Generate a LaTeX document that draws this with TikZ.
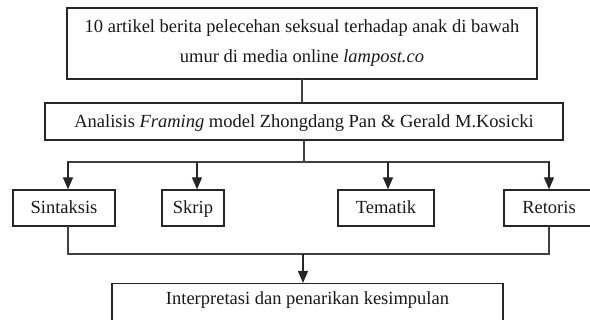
\documentclass[tikz,border=0pt]{standalone}
\usepackage{fontspec}
\setmainfont{Liberation Serif}
\usetikzlibrary{arrows.meta}
\tikzset{
  kotak/.style={draw=black!85, line width=1.2pt, rectangle, inner sep=0pt,
    align=center, font=\fontsize{18.5}{30}\selectfont, text=black!90},
  baris/.style={kotak, text height=14pt, text depth=2.5pt, minimum height=36pt},
  garis/.style={draw=black!75, line width=1.2pt, line cap=rect},
  panah/.style={draw=black!85, line width=1.2pt, -{Triangle[width=10pt,length=12pt]}},
}
\begin{document}
\begin{tikzpicture}[x=1pt,y=-1pt]
    \useasboundingbox (0,0) rectangle (590,320);
    \clip (0,0) rectangle (590,320);
    \node[kotak, minimum width=470pt, minimum height=71pt] (berita) at (302,43.5)
        {10 artikel berita pelecehan seksual terhadap anak di bawah\\umur di media online \textit{lampost.co}};
    \node[baris, minimum width=518pt, minimum height=37pt] (framing) at (304,121.5)
        {Analisis \textit{Framing} model Zhongdang Pan \& Gerald M.Kosicki};
    \node[baris, minimum width=102pt] (sintaksis) at (64,208) {Sintaksis};
    \node[baris, minimum width=62pt] (skrip) at (193,208) {Skrip};
    \node[baris, minimum width=96pt] (tematik) at (386,208) {Tematik};
    \node[baris, minimum width=90pt] (retoris) at (549,208) {Retoris};
    \node[kotak, anchor=north, minimum width=391pt, text height=21pt, text depth=40pt] (kesimpulan) at (307.5,283)
        {Interpretasi dan penarikan kesimpulan};
    % garis penghubung
    \draw[garis] (berita.south) -- (berita.south |- framing.north);
    \coordinate (cabang) at (303,162);
    \draw[garis] (framing.south) -- (framing.south |- cabang);
    \coordinate (j1) at (68,162);
    \coordinate (j2) at (197,162);
    \coordinate (j3) at (388,162);
    \coordinate (j4) at (549,162);
    \draw[garis] (j1) -- (j4);
    \foreach \j/\b in {j1/sintaksis, j2/skrip, j3/tematik, j4/retoris}
        \draw[panah] (\j) -- (\j |- \b.north);
    \coordinate (k1) at (68,254);
    \coordinate (k2) at (549,254);
    \coordinate (gabung) at (303,254);
    \draw[garis] (k1 |- sintaksis.south) -- (k1) -- (k2) -- (k2 |- retoris.south);
    \draw[panah] (gabung) -- (gabung |- kesimpulan.north);
\end{tikzpicture}
\end{document}
